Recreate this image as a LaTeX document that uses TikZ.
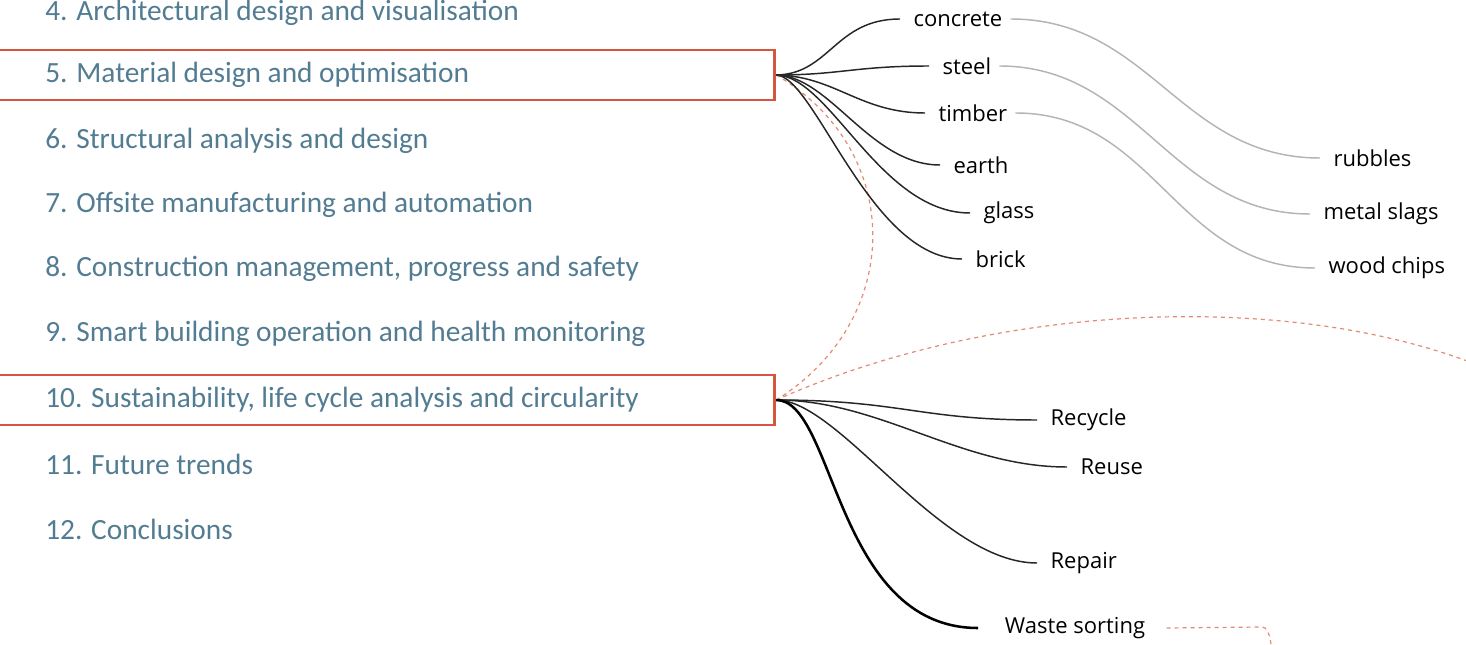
\documentclass[tikz,border=0pt]{standalone}
\usepackage{fontspec}
\setmainfont{Carlito}
\newfontfamily\labfont{Open Sans}
\definecolor{itemtext}{HTML}{527C92}
\definecolor{hlred}{HTML}{D5553D}
\definecolor{linkred}{HTML}{E58A72}
\definecolor{lightlink}{HTML}{B4B4B4}
\tikzset{
  x=0.75pt, y=-0.75pt,
  item/.style={anchor=west, inner sep=0pt, text=itemtext, font=\fontsize{22pt}{24pt}\selectfont},
  hlbox/.style={draw=hlred, line width=2.2pt, minimum width=583pt, minimum height=37.5pt, inner sep=0pt},
  leaf/.style={anchor=west, inner xsep=10pt, inner ysep=0pt, font=\labfont\fontsize{16.5pt}{18pt}\selectfont, text=black},
  branch/.style={draw=black!85, line width=1.1pt},
  strong/.style={draw=black, line width=1.9pt},
  fade/.style={draw=lightlink, line width=1.1pt},
  xlink/.style={draw=linkred, line width=0.9pt, dash pattern=on 3pt off 3pt},
}
\begin{document}
\begin{tikzpicture}
\useasboundingbox (0,0) rectangle (1466,645);

% table of contents
\node[item] (l4)  at (45,13)  {4. Architectural design and visualisation};
\node[hlbox] (b5) at (386,75) {};
\node[item] (l5)  at (45,75)  {5. Material design and optimisation};
\node[item] (l6)  at (45,141) {6. Structural analysis and design};
\node[item] (l7)  at (45,205) {7. Offsite manufacturing and automation};
\node[item] (l8)  at (45,269) {8. Construction management, progress and safety};
\node[item] (l9)  at (45,334) {9. Smart building operation and health monitoring};
\node[hlbox] (b10) at (386,400) {};
\node[item] (l10) at (45,400) {10. Sustainability, life cycle analysis and circularity};
\node[item] (l11) at (45,464) {11. Future trends};
\node[item] (l12) at (45,529) {12. Conclusions};

% materials
\node[leaf] (concrete) at (900,19)  {concrete};
\node[leaf] (steel)    at (929,66)  {steel};
\node[leaf] (timber)   at (925,113) {timber};
\node[leaf] (earth)    at (940,165) {earth};
\node[leaf] (glass)    at (970,213) {glass};
\node[leaf] (brick)    at (962,259) {brick};

% by-products
\node[leaf] (rubbles) at (1320,158) {rubbles};
\node[leaf] (slags)   at (1310,214) {metal slags};
\node[leaf] (chips)   at (1315,268) {wood chips};

% circularity strategies
\node[leaf] (recycle) at (1037,420) {Recycle};
\node[leaf] (reuse)   at (1067,467) {Reuse};
\node[leaf] (repair)  at (1037,563) {Repair};
\node[leaf, inner xsep=20pt] (waste) at (978,628) {Waste sorting};

\coordinate (wsturn) at (1262,627);
\coordinate (farright) at (1490,370);
\coordinate (farbottom) at (1272,665);

% cross links
\path[xlink] (b5.east) .. controls (905,150) and (905,320) .. (b10.east);
\path[xlink] (b10.east) .. controls (1000,300) and (1300,290) .. (farright);
\path[xlink] ([xshift=-4pt]waste.east) -- (wsturn) .. controls +(9,0) and +(0,-15) .. (farbottom);

% material to by-product
\path[fade] ([xshift=-4pt]concrete.east) .. controls +(140,0) and +(-140,0) .. (rubbles.west);
\path[fade] ([xshift=-4pt]steel.east) .. controls +(140,0) and +(-140,0) .. (slags.west);
\path[fade] ([xshift=-4pt]timber.east) .. controls +(140,0) and +(-140,0) .. (chips.west);

% material branches
\path[branch] (b5.east) .. controls (830,74) and (835,19) .. (concrete.west);
\path[branch] (b5.east) .. controls (840,75) and (855,66) .. (steel.west);
\path[branch] (b5.east) .. controls (835,76) and (860,113) .. (timber.west);
\path[branch] (b5.east) .. controls (830,76) and (870,165) .. (earth.west);
\path[branch] (b5.east) .. controls (830,76) and (880,213) .. (glass.west);
\path[branch] (b5.east) .. controls (815,76) and (870,259) .. (brick.west);

% strategy branches
\path[branch] (b10.east) .. controls (900,400) and (920,420) .. (recycle.west);
\path[branch] (b10.east) .. controls (880,400) and (960,467) .. (reuse.west);
\path[branch] (b10.east) .. controls (840,400) and (940,563) .. (repair.west);
\path[strong] (b10.east) .. controls (835,400) and (835,628) .. (waste.west);
\end{tikzpicture}
\end{document}
